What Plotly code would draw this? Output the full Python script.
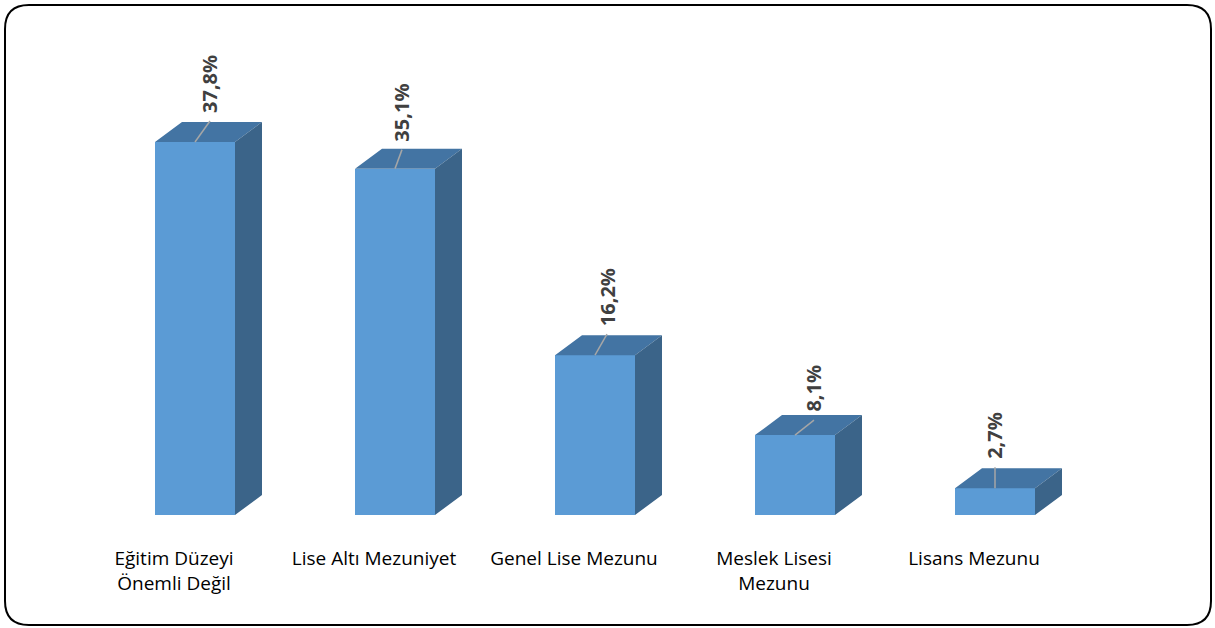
import plotly.graph_objects as go

# ---- data ----
categories = ["Eğitim Düzeyi<br>Önemli Değil", "Lise Altı Mezuniyet", "Genel Lise Mezunu",
              "Meslek Lisesi<br>Mezunu", "Lisans Mezunu"]
values = [37.8, 35.1, 16.2, 8.1, 2.7]
value_labels = ["37,8%", "35,1%", "16,2%", "8,1%", "2,7%"]

# ---- geometry / style ----
W, H = 1215, 628
PX_X = 200.0          # pixels per category
PX_Y = 9.868          # pixels per percent
x_left_px, x_right_px = 95, 1095
y_bottom_px, y_top_px = 515, 40
half_w = 0.2
dx = 27 / PX_X
dy = 20 / PX_Y
# leader line end offsets (pixels right, pixels up) from front-top centre
leader_off = [(15, 21), (7, 19), (12, 21), (19, 15), (0, 21)]

FRONT = "#5B9BD5"
TOP = "#4374A3"
SIDE = "#3B6489"

fig = go.Figure()

xs = list(range(len(values)))

fig.add_trace(go.Bar(x=xs, y=values, width=2 * half_w, marker=dict(color=FRONT, line=dict(width=0)),
                     hoverinfo="skip", showlegend=False))

top_x, top_y, side_x, side_y = [], [], [], []
for i, v in zip(xs, values):
    top_x += [i - half_w, i - half_w + dx, i + half_w + dx, i + half_w, i - half_w, None]
    top_y += [v, v + dy, v + dy, v, v, None]
    side_x += [i + half_w, i + half_w + dx, i + half_w + dx, i + half_w, i + half_w, None]
    side_y += [0, dy, v + dy, v, 0, None]

fig.add_trace(go.Scatter(x=top_x, y=top_y, mode="lines", fill="toself", fillcolor=TOP,
                         line=dict(width=0, color=TOP), hoverinfo="skip", showlegend=False))
fig.add_trace(go.Scatter(x=side_x, y=side_y, mode="lines", fill="toself", fillcolor=SIDE,
                         line=dict(width=0, color=SIDE), hoverinfo="skip", showlegend=False))

# leader lines + labels
lx, ly = [], []
for i, v, (ox, oy), lab in zip(xs, values, leader_off, value_labels):
    ex, ey = i + ox / PX_X, v + oy / PX_Y
    lx += [i, ex, None]
    ly += [v, ey, None]
    fig.add_annotation(x=ex, y=ey, xref="x", yref="y", text=lab, textangle=-90, showarrow=False,
                       xanchor="center", yanchor="bottom", yshift=6,
                       font=dict(family="Open Sans", size=20, color="#404040", weight="bold"))
fig.add_trace(go.Scatter(x=lx, y=ly, mode="lines", line=dict(color="#A6A6A6", width=1.5),
                         hoverinfo="skip", showlegend=False))

fig.update_xaxes(domain=[x_left_px / W, x_right_px / W], range=[-0.5, 4.5],
                 tickvals=[i - 0.105 for i in xs], ticktext=categories,
                 ticks="outside", ticklen=26, tickcolor="rgba(0,0,0,0)",
                 showgrid=False, zeroline=False, showline=False,
                 tickfont=dict(family="Open Sans", size=19, color="#000000"))
fig.update_yaxes(domain=[1 - y_bottom_px / H, 1 - y_top_px / H],
                 range=[0, (y_bottom_px - y_top_px) / PX_Y],
                 visible=False, showgrid=False, zeroline=False)

# rounded border
def px(xp, yp):
    return f"{xp / W:.5f},{1 - yp / H:.5f}"

L, T, R, B, r = 5, 5, 1211, 625, 24
path = (f"M {px(L + r, T)} L {px(R - r, T)} Q {px(R, T)} {px(R, T + r)} "
        f"L {px(R, B - r)} Q {px(R, B)} {px(R - r, B)} "
        f"L {px(L + r, B)} Q {px(L, B)} {px(L, B - r)} "
        f"L {px(L, T + r)} Q {px(L, T)} {px(L + r, T)} Z")
fig.add_shape(type="path", path=path, xref="paper", yref="paper",
              line=dict(color="black", width=2))

fig.update_layout(width=W, height=H, margin=dict(l=0, r=0, t=0, b=0),
                  paper_bgcolor="white", plot_bgcolor="white", bargap=0)

fig.write_html("out.html", config={"displayModeBar": False},
               post_script="document.body.style.margin='0px';")
